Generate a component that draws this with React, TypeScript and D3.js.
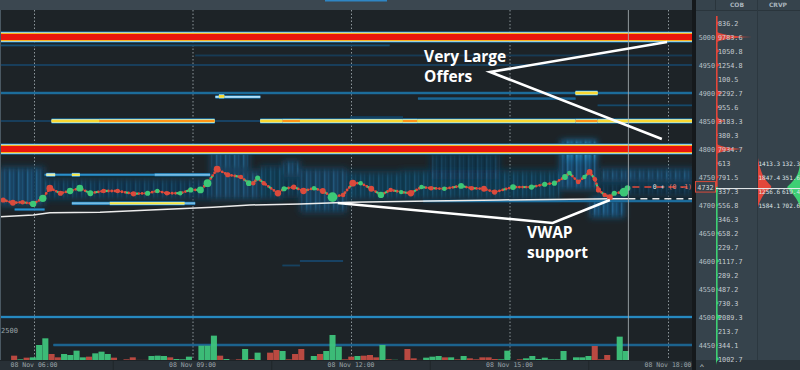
import React, { useEffect, useRef } from 'react';
import * as d3 from 'd3';

const at = (hm: string) => {
  const [h, m] = hm.split(':').map(Number);
  return new Date(2020, 10, 8, h, m);
};

// traded price path, size is signed (+ buy / - sell)
const tradeTimes = ['05:25', '05:36', '05:47', '05:59', '06:10', '06:18', '06:30', '06:41', '06:52', '07:04', '07:19', '07:35', '07:53', '08:09', '08:20', '08:31', '08:46', '08:58', '09:09', '09:17', '09:28', '09:40', '09:55', '10:04', '10:09', '10:14', '10:21', '10:37', '10:44', '10:55', '11:06', '11:18', '11:28', '11:39', '11:51', '12:02', '12:11', '12:23', '12:34', '12:45', '12:57', '13:08', '13:20', '13:31', '13:46', '14:05', '14:17', '14:31', '14:43', '15:04', '15:25', '15:40', '15:51', '16:03', '16:08', '16:18', '16:25', '16:31', '16:37', '16:41', '16:48', '16:54', '16:59', '17:10', '17:14'];
const tradePrices = [4709, 4704, 4705, 4702, 4712, 4730, 4721, 4725, 4730, 4721, 4725, 4725, 4720, 4721, 4725, 4721, 4721, 4727, 4727, 4739, 4764, 4754, 4750, 4739, 4739, 4748, 4739, 4721, 4729, 4732, 4725, 4730, 4725, 4714, 4718, 4739, 4739, 4729, 4718, 4727, 4723, 4721, 4732, 4730, 4729, 4734, 4730, 4729, 4723, 4732, 4732, 4737, 4739, 4750, 4757, 4741, 4750, 4759, 4746, 4727, 4718, 4714, 4721, 4723, 4730];
const tradeSizes = [-8, -10, -6, 12, 16, -14, -8, 12, 14, 10, -6, -6, -8, 8, 6, -6, 6, 8, 14, 18, -14, -8, -6, 10, -6, 8, -6, -12, 8, -8, -12, 6, -10, 28, -6, -14, 6, -10, 12, -6, 6, -12, 6, -6, 6, 10, -6, -10, -8, 10, 8, 8, 8, 10, 6, -6, 6, -10, -6, -8, -6, -10, 8, 24, 10];

const vwapTimes = ['05:21', '05:59', '06:18', '07:15', '08:12', '09:23', '10:05', '11:02', '11:59', '13:30', '14:49', '16:57', '17:15'];
const vwapPrices = [4679, 4682, 4686, 4687, 4691, 4696, 4700, 4702, 4705, 4707, 4709, 4711, 4711];

const currentTime = '17:15';
const currentPrice = 4732;

const volumeStart = '05:34';
const volumeBarMinutes = 7.09;
const volumes = [-361, 56, -195, 222, 1250, 1807, -500, -222, 500, 417, 778, 222, -278, 556, 695, 500, -195, 0, -56, -222, -10, -10, 334, 361, 334, -222, 83, 56, 278, 0, 1195, 1195, 2029, -361, 83, -10, -56, 917, -83, 612, 0, -612, -834, 751, -56, -500, -917, 0, 334, -500, 751, 2085, 1112, -56, -278, 334, -361, -417, -222, 1250, -56, 20, 0, -917, -139, -10, 195, 278, 334, -222, 222, -56, 334, -139, -56, -222, -222, -83, 56, 778, 0, -56, 139, 334, 83, 195, 56, 56, 751, 0, 222, 222, 334, -1167, -56, -417, 0, 1946, 751];

// resting liquidity: [price, from, to, intensity]
const levels: [number, string, string, number][] = [
  [5000, '05:21', '18:30', 1],
  [4800, '05:21', '18:30', 1],
  [4985, '05:21', '12:44', 0.35],
  [4967, '09:03', '18:30', 0.2],
  [4950, '05:21', '18:30', 0.25],
  [4900, '05:21', '18:30', 0.45],
  [4900, '16:15', '16:40', 0.82],
  [4893, '09:26', '10:17', 0.68],
  [4894, '09:30', '09:36', 0.82],
  [4890, '13:16', '16:15', 0.42],
  [4878, '16:40', '18:30', 0.3],
  [4857, '11:59', '12:59', 0.25],
  [4850, '05:21', '06:20', 0.25],
  [4850, '06:20', '09:25', 0.82],
  [4850, '07:14', '09:25', 0.9],
  [4850, '09:25', '10:17', 0.3],
  [4850, '10:17', '18:30', 0.82],
  [4850, '10:42', '11:02', 0.9],
  [4850, '12:59', '13:15', 0.9],
  [4850, '16:15', '16:40', 0.9],
  [4754, '06:12', '09:20', 0.55],
  [4754, '08:17', '09:20', 0.62],
  [4754, '06:14', '06:24', 0.75],
  [4754, '06:43', '06:52', 0.8],
  [4703, '06:43', '09:03', 0.62],
  [4703, '07:26', '08:51', 0.8],
  [4692, '05:38', '06:12', 0.55],
  [4707, '13:22', '18:30', 0.45],
  [4600, '11:02', '11:51', 0.3],
  [4592, '10:42', '11:02', 0.25],
  [4500, '05:21', '18:30', 0.55],
  [4450, '06:22', '18:30', 0.42],
];

// diffuse liquidity around the market: [high, low, from, to, intensity]
const clouds: [number, number, string, string, number][] = [
  [4768, 4698, '05:21', '06:12', 0.32],
  [4748, 4709, '06:12', '09:20', 0.2],
  [4800, 4762, '09:20', '10:05', 0.3],
  [4762, 4709, '09:20', '10:17', 0.28],
  [4771, 4709, '10:17', '10:43', 0.22],
  [4780, 4750, '10:43', '11:02', 0.3],
  [4750, 4712, '10:43', '11:02', 0.18],
  [4766, 4686, '11:02', '11:55', 0.28],
  [4760, 4709, '11:55', '12:56', 0.22],
  [4793, 4745, '13:30', '14:49', 0.16],
  [4763, 4709, '12:56', '15:57', 0.22],
  [4816, 4727, '15:57', '16:39', 0.36],
  [4816, 4780, '16:01', '16:39', 0.45],
  [4714, 4677, '16:31', '17:11', 0.36],
  [4766, 4741, '16:42', '18:30', 0.3],
  [4741, 4714, '16:39', '18:30', 0.14],
];

const priceTicks = [5000, 4950, 4900, 4850, 4800, 4750, 4700, 4650, 4600, 4550, 4500, 4450];
const cobPrices = [5025, 5000, 4975, 4950, 4925, 4900, 4875, 4850, 4825, 4800, 4775, 4750, 4725, 4700, 4675, 4650, 4625, 4600, 4575, 4550, 4525, 4500, 4475, 4450, 4425];
const cobValues = [836.2, 9783.6, 1050.8, 1254.8, 100.5, 2292.7, 955.6, 3183.3, 380.3, 7934.7, 613, 791.5, 337.3, 556.8, 346.3, 658.2, 229.7, 1117.7, 289.2, 487.2, 730.3, 2089.3, 213.7, 344.1, 1002.7];

const crvpPrices = [4775, 4750, 4725, 4700];
const crvpSell = [1413.3, 1847.4, 1256.6, 1584.1];
const crvpBuy = [132.3, 351.6, 619.4, 702.6];
const crvpProfilePrices = [4784, 4775, 4765, 4755, 4745, 4737, 4732, 4727, 4720, 4712, 4704, 4696];
const crvpProfileSell = [0, 60, 160, 300, 520, 800, 1050, 700, 430, 250, 90, 0];
const crvpProfileBuy = [0, 0, 40, 160, 400, 700, 980, 800, 500, 280, 100, 0];

const MONO = "'DejaVu Sans Mono', monospace";

export default function App() {
  const svgRef = useRef<SVGSVGElement>(null);

  useEffect(() => {
    const svg = d3.select(svgRef.current);
    svg.selectAll('*').remove();

    const W = 800, H = 370;
    const plotR = 692, plotT = 10, plotB = 360;

    const x = d3.scaleTime().domain([at('06:00'), at('18:00')]).range([34, 668]);
    const y = d3.scaleLinear().domain([4450, 5000]).range([345, 37]);
    const vy = d3.scaleLinear().domain([0, 2500]).range([plotB, 330]);

    const heat = d3.scaleLinear<string>()
      .domain([0, 0.35, 0.55, 0.7, 0.8, 0.9, 1])
      .range(['#10202b', '#154f75', '#2a8fc9', '#cdeeff', '#f7e83a', '#ff8c10', '#e8140a']);

    const defs = svg.append('defs');
    defs.append('clipPath').attr('id', 'plot')
      .append('rect').attr('x', 0).attr('y', plotT).attr('width', plotR).attr('height', plotB - plotT);
    const fS = defs.append('filter').attr('id', 'blurS').attr('filterUnits', 'userSpaceOnUse')
      .attr('x', 0).attr('y', 0).attr('width', W).attr('height', H);
    fS.append('feGaussianBlur').attr('stdDeviation', 0.6);
    const fL = defs.append('filter').attr('id', 'blurL').attr('filterUnits', 'userSpaceOnUse')
      .attr('x', 0).attr('y', 0).attr('width', W).attr('height', H);
    fL.append('feGaussianBlur').attr('stdDeviation', 3.2);
    const fM = defs.append('filter').attr('id', 'blurM').attr('filterUnits', 'userSpaceOnUse')
      .attr('x', 0).attr('y', 0).attr('width', W).attr('height', H);
    fM.append('feGaussianBlur').attr('stdDeviation', '0.7 2.2');
    // vertical streaks for the diffuse book
    const pat = defs.append('pattern').attr('id', 'streak').attr('patternUnits', 'userSpaceOnUse')
      .attr('width', 9).attr('height', 6);
    pat.append('rect').attr('x', 0).attr('width', 1.4).attr('height', 6).attr('fill', '#3d9fd8').attr('opacity', 0.55);
    pat.append('rect').attr('x', 4).attr('width', 0.9).attr('height', 6).attr('fill', '#2a7fb5').attr('opacity', 0.45);
    pat.append('rect').attr('x', 6.5).attr('width', 1.6).attr('height', 6).attr('fill', '#0d1a22').attr('opacity', 0.5);

    svg.append('rect').attr('width', W).attr('height', H).attr('fill', '#1d2327');

    // top strip
    svg.append('rect').attr('width', plotR).attr('height', plotT).attr('fill', '#3b4750');
    svg.append('rect').attr('x', 325).attr('width', 62).attr('height', 1.5).attr('fill', '#2f86c4');

    // time grid
    const ticks = x.ticks(d3.timeHour.every(3));
    svg.append('g').selectAll('line').data(ticks).join('line')
      .attr('x1', d => x(d) + 0.5).attr('x2', d => x(d) + 0.5)
      .attr('y1', plotT).attr('y2', plotB)
      .attr('stroke', '#8d969b').attr('stroke-dasharray', '1.5 2');

    // heatmap
    const hm = svg.append('g').attr('clip-path', 'url(#plot)');
    hm.append('g').attr('filter', 'url(#blurL)').selectAll('rect').data(clouds).join('rect')
      .attr('x', d => x(at(d[2]))).attr('width', d => x(at(d[3])) - x(at(d[2])))
      .attr('y', d => y(d[0])).attr('height', d => y(d[1]) - y(d[0]))
      .attr('fill', d => heat(d[4])).attr('opacity', 0.85);
    hm.append('g').attr('filter', 'url(#blurM)').selectAll('rect').data(clouds).join('rect')
      .attr('x', d => x(at(d[2]))).attr('width', d => x(at(d[3])) - x(at(d[2])))
      .attr('y', d => y(d[0]) + 3).attr('height', d => Math.max(0, y(d[1]) - y(d[0]) - 6))
      .attr('fill', 'url(#streak)').attr('opacity', d => Math.min(0.8, d[4] * 1.6));

    const stops = [0.35, 0.55, 0.7, 0.8, 0.9];
    const lg = hm.append('g').attr('filter', 'url(#blurS)');
    [...levels].sort((a, b) => a[3] - b[3]).forEach(([p, a, b, I]) => {
      const layers = stops.filter(s => s < I - 0.005).concat([I]);
      const big = I >= 0.95;
      const n = layers.length;
      layers.forEach((v, j) => {
        const h = (big ? 6 : 1.8) + (n - 1 - j) * (big ? 1.1 : 0.9);
        lg.append('rect')
          .attr('x', x(at(a))).attr('width', x(at(b)) - x(at(a)))
          .attr('y', y(p) - h / 2).attr('height', h)
          .attr('fill', heat(v));
      });
    });

    // volume
    const vStart = at(volumeStart).getTime();
    const barT = (i: number) => new Date(vStart + i * volumeBarMinutes * 60000);
    svg.append('g').selectAll('rect').data(volumes).join('rect')
      .attr('x', (d, i) => x(barT(i)))
      .attr('width', (d, i) => x(barT(i + 1)) - x(barT(i)) - 0.2)
      .attr('y', d => vy(Math.abs(d)))
      .attr('height', d => plotB - vy(Math.abs(d)))
      .attr('fill', d => (d > 0 ? '#3ec47b' : '#c24c42'))
      .attr('opacity', d => (d === 0 ? 0 : 0.95));
    svg.append('text').attr('x', 1).attr('y', 332.5).attr('fill', '#9aa3a8')
      .style('font', `7px ${MONO}`).text('2500');

    // vwap
    const line = d3.line<[number, number]>();
    const vwapPts = vwapTimes.map((tm, i) => [x(at(tm)), y(vwapPrices[i])] as [number, number]);
    svg.append('path').attr('d', line(vwapPts)).attr('fill', 'none')
      .attr('stroke', '#ececec').attr('stroke-width', 1.5);

    const nowX = x(at(currentTime));
    svg.append('line').attr('x1', nowX).attr('x2', plotR)
      .attr('y1', y(vwapPrices[vwapPrices.length - 1])).attr('y2', y(vwapPrices[vwapPrices.length - 1]))
      .attr('stroke', '#e6e6e6').attr('stroke-width', 1.5).attr('stroke-dasharray', '7 5');

    // price path
    const pts = tradeTimes.map((tm, i) => [x(at(tm)), y(tradePrices[i])] as [number, number]);
    const pg = svg.append('g');
    pg.append('path').attr('d', line(pts)).attr('fill', 'none')
      .attr('stroke', '#b8372c').attr('stroke-width', 1);
    pg.append('path').attr('d', line(pts)).attr('fill', 'none')
      .attr('stroke', '#e24a3b').attr('stroke-width', 2.8)
      .attr('stroke-linecap', 'round').attr('stroke-dasharray', '0 3.4');
    pg.append('path').attr('d', line(pts)).attr('fill', 'none')
      .attr('stroke', '#3bd17a').attr('stroke-width', 2.3)
      .attr('stroke-linecap', 'round').attr('stroke-dasharray', '0 10.2').attr('stroke-dashoffset', -1.7);
    const rS = d3.scaleSqrt().domain([0, 30]).range([0, 5]);
    pg.selectAll('circle').data(pts).join('circle')
      .attr('cx', d => d[0]).attr('cy', d => d[1])
      .attr('r', (d, i) => rS(Math.abs(tradeSizes[i])))
      .attr('fill', (d, i) => (tradeSizes[i] > 0 ? '#3cc877' : '#db4a3c'));

    // current price / time
    svg.append('line').attr('x1', nowX).attr('x2', nowX).attr('y1', plotT).attr('y2', plotB)
      .attr('stroke', '#a5adb2').attr('stroke-width', 1).attr('opacity', 0.85);
    svg.append('line').attr('x1', nowX + 4).attr('x2', plotR)
      .attr('y1', y(currentPrice)).attr('y2', y(currentPrice))
      .attr('stroke', '#e0493b').attr('stroke-width', 1.5).attr('stroke-dasharray', '7 5');
    const tag = svg.append('text').attr('x', plotR).attr('y', y(currentPrice) + 2.3)
      .attr('text-anchor', 'end').style('font', `6.5px ${MONO}`);
    tag.append('tspan').attr('fill', '#e8e8e8').text('0 + ');
    tag.append('tspan').attr('fill', '#f07a6e').text('(0 -1)');

    // annotations
    const ann = svg.append('g').attr('stroke', '#ffffff').attr('stroke-width', 2.6).attr('fill', 'none');
    const pt = (tm: string, p: number) => [x(at(tm)), y(p)] as [number, number];
    ann.append('path').attr('d', line([pt('17:59', 4991), pt('14:38', 4937.5), pt('17:53', 4818)]));
    ann.append('path').attr('d', line([pt('11:45', 4703.6), pt('15:49', 4668), pt('16:54', 4709)]));
    const noteFont = "700 15.5px 'Open Sans', sans-serif";
    [['Very Large', '13:23', 4955.4], ['Offers', '13:23', 4919.6], ['VWAP', '15:20', 4641], ['support', '15:20', 4605]]
      .forEach(([s, tm, p]) => {
        svg.append('text').attr('x', x(at(tm as string))).attr('y', y(p as number))
          .attr('fill', '#ffffff').style('font', noteFont).text(s as string);
      });

    // left edge
    svg.append('line').attr('x1', 0.5).attr('x2', 0.5).attr('y1', plotT).attr('y2', plotB)
      .attr('stroke', '#4a5862');

    // bottom time axis
    svg.append('rect').attr('y', plotB + 1).attr('width', plotR).attr('height', H - plotB - 1).attr('fill', '#283036');
    const mids = d3.pairs(ticks).map(([a, b]) => (x(a) + x(b)) / 2);
    svg.append('g').selectAll('line').data(mids).join('line')
      .attr('x1', d => d).attr('x2', d => d).attr('y1', plotB + 1).attr('y2', H)
      .attr('stroke', '#1f262a');
    svg.append('g').selectAll('text').data(ticks).join('text')
      .attr('x', d => x(d)).attr('y', 366.5).attr('text-anchor', 'middle')
      .attr('fill', '#9aa3a8').style('font', `6.5px ${MONO}`)
      .text(d => d3.timeFormat('%d %b %H:%M')(d));

    // right panel
    svg.append('rect').attr('x', plotR).attr('width', 4).attr('height', H).attr('fill', '#15191c');
    svg.append('rect').attr('x', 696).attr('width', W - 696).attr('height', H).attr('fill', '#36434c');
    svg.append('rect').attr('x', 696).attr('y', plotB).attr('width', W - 696).attr('height', H - plotB).attr('fill', '#2a343b');
    svg.append('text').attr('x', 702).attr('y', 369).attr('text-anchor', 'middle')
      .attr('fill', '#d0d6da').style('font', '8px sans-serif').text('^');
    svg.append('line').attr('x1', 696).attr('x2', W).attr('y1', plotT + 0.5).attr('y2', plotT + 0.5).attr('stroke', '#2a353c');
    svg.append('line').attr('x1', 715.5).attr('x2', 715.5).attr('y1', 0).attr('y2', plotT).attr('stroke', '#2a353c');
    svg.append('line').attr('x1', 757.5).attr('x2', 757.5).attr('y1', 0).attr('y2', plotB).attr('stroke', '#2c3840');
    svg.append('text').attr('x', 737).attr('y', 7).attr('text-anchor', 'middle').attr('fill', '#a9b5bd')
      .style('font', "700 6px 'DejaVu Sans', sans-serif").text('COB');
    svg.append('text').attr('x', 778).attr('y', 7).attr('text-anchor', 'middle').attr('fill', '#a9b5bd')
      .style('font', "700 6px 'DejaVu Sans', sans-serif").text('CRVP');

    // COB profile
    const cobX = 716;
    const cw = d3.scaleLinear().domain([0, 2000, 10000]).range([1.5, 6, 37]);
    const step = (cobPrices[0] - cobPrices[1]) / 2;
    const cob = svg.append('g');
    cob.append('rect').attr('x', cobX).attr('width', 1.6)
      .attr('y', y(cobPrices[0] + step)).attr('height', y(currentPrice) - y(cobPrices[0] + step)).attr('fill', '#e2473b');
    cob.append('rect').attr('x', cobX).attr('width', 1.6)
      .attr('y', y(currentPrice)).attr('height', plotB - y(currentPrice)).attr('fill', '#3ecf74');
    cobPrices.forEach((p, i) => {
      const yy = y(p), w = cw(cobValues[i]);
      cob.append('path')
        .attr('d', `M${cobX},${yy - 6}Q${cobX + w * 0.12},${yy - 1.2} ${cobX + w},${yy}Q${cobX + w * 0.12},${yy + 1.2} ${cobX},${yy + 6}Z`)
        .attr('fill', p > currentPrice ? '#e2473b' : '#3ecf74');
    });
    svg.append('g').selectAll('text').data(cobPrices).join('text')
      .attr('x', 718).attr('y', d => y(d) + 2.5).attr('fill', '#c5ccd1')
      .style('font', `6.8px ${MONO}`).text((d, i) => String(cobValues[i]));
    svg.append('g').selectAll('text').data(priceTicks).join('text')
      .attr('x', 715).attr('y', d => y(d) + 2.5).attr('text-anchor', 'end').attr('fill', '#b8c0c5')
      .style('font', `6.8px ${MONO}`).text(d => String(d));

    // CRVP
    const sw = d3.scaleLinear().domain([0, 1000]).range([0, 14]);
    const sellArea = d3.area<number>().curve(d3.curveBasis)
      .y((d, i) => y(crvpProfilePrices[i])).x0(758).x1((d) => 758 + sw(d));
    const buyArea = d3.area<number>().curve(d3.curveBasis)
      .y((d, i) => y(crvpProfilePrices[i])).x0(W).x1((d) => W - sw(d));
    svg.append('path').attr('d', sellArea(crvpProfileSell)).attr('fill', '#e2473b');
    svg.append('path').attr('d', buyArea(crvpProfileBuy)).attr('fill', '#3ecf74');
    svg.append('line').attr('x1', cobX).attr('x2', W).attr('y1', y(currentPrice) + 1.5).attr('y2', y(currentPrice) + 1.5)
      .attr('stroke', '#eef2f4').attr('stroke-width', 1);
    crvpPrices.forEach((p, i) => {
      svg.append('text').attr('x', 758.5).attr('y', y(p) + 2.5).attr('fill', '#dfe4e7')
        .style('font', `6px ${MONO}`).text(String(crvpSell[i]));
      svg.append('text').attr('x', W).attr('y', y(p) + 2.5).attr('text-anchor', 'end').attr('fill', '#dfe4e7')
        .style('font', `6px ${MONO}`).text(String(crvpBuy[i]));
    });

    // current price tag
    svg.append('rect').attr('x', 695.5).attr('y', y(currentPrice) - 5.5).attr('width', 20).attr('height', 10.5)
      .attr('fill', '#36434c').attr('stroke', '#d84a3a');
    svg.append('text').attr('x', 705.5).attr('y', y(currentPrice) + 2.5).attr('text-anchor', 'middle')
      .attr('fill', '#cfd5d8').style('font', `6.8px ${MONO}`).text(String(currentPrice));
  }, []);

  return (
    <svg ref={svgRef} width={800} height={370}
      style={{ position: 'fixed', left: 0, top: 0, display: 'block' }} />
  );
}
